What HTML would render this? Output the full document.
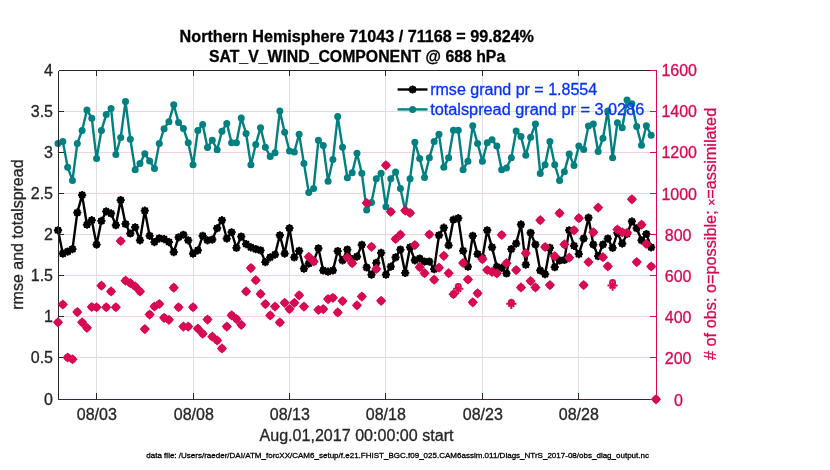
<!DOCTYPE html>
<html lang="en"><head><meta charset="utf-8"><title>SAT_V_WIND_COMPONENT @ 688 hPa</title>
<style>html,body{margin:0;padding:0;background:#fff;}body{width:830px;height:470px;overflow:hidden;}svg{display:block;}text{font-family:"Liberation Sans",Arial,Helvetica,sans-serif;stroke-width:0.3px;}</style>
</head><body>
<svg width="830" height="470" viewBox="0 0 830 470">
<rect x="0" y="0" width="830" height="470" fill="#ffffff"/>
<g stroke="#dfdfdf" stroke-width="1" shape-rendering="crispEdges">
<line x1="96.50" y1="70.0" x2="96.50" y2="400.0"/>
<line x1="193.50" y1="70.0" x2="193.50" y2="400.0"/>
<line x1="289.50" y1="70.0" x2="289.50" y2="400.0"/>
<line x1="385.50" y1="70.0" x2="385.50" y2="400.0"/>
<line x1="482.50" y1="70.0" x2="482.50" y2="400.0"/>
<line x1="578.50" y1="70.0" x2="578.50" y2="400.0"/>
</g>
<g stroke="#f6d2dd" stroke-width="1" shape-rendering="crispEdges">
<line x1="58.0" y1="357.50" x2="657.0" y2="357.50"/>
<line x1="58.0" y1="316.50" x2="657.0" y2="316.50"/>
<line x1="58.0" y1="275.50" x2="657.0" y2="275.50"/>
<line x1="58.0" y1="234.50" x2="657.0" y2="234.50"/>
<line x1="58.0" y1="193.50" x2="657.0" y2="193.50"/>
<line x1="58.0" y1="152.50" x2="657.0" y2="152.50"/>
<line x1="58.0" y1="111.50" x2="657.0" y2="111.50"/>
</g>
<polyline fill="none" stroke="#008080" stroke-width="2.4" stroke-linejoin="round" points="58.00,143.51 62.82,141.50 67.65,167.13 72.47,180.44 77.29,143.51 82.11,130.44 86.94,110.09 91.76,118.13 96.58,158.58 101.40,130.44 106.23,114.61 111.05,108.58 115.87,154.56 120.69,137.48 125.52,101.55 130.34,139.24 135.16,169.64 139.98,163.61 144.81,153.81 149.63,161.10 154.45,168.38 159.27,143.51 164.10,128.68 168.92,121.65 173.74,104.81 178.56,122.40 183.39,128.43 188.21,142.75 193.03,164.86 197.85,130.44 202.68,124.41 207.50,147.53 212.32,140.24 217.15,149.79 221.97,131.20 226.79,123.41 231.61,142.75 236.44,142.75 241.26,117.88 246.08,133.46 250.90,164.86 255.73,144.51 260.55,127.68 265.37,147.24 270.19,156.53 275.02,152.76 279.84,111.06 284.66,132.16 289.48,151.01 294.31,152.01 299.13,134.17 303.95,163.57 308.77,192.46 313.60,188.44 318.42,140.20 323.24,145.48 328.06,181.16 332.89,159.55 337.71,116.58 342.53,147.24 347.35,177.64 352.18,172.86 357.00,153.27 361.82,173.37 366.65,210.05 371.47,202.51 376.29,178.64 381.11,173.37 385.94,206.78 390.76,178.64 395.58,172.11 400.40,188.44 405.23,210.55 410.05,178.64 414.87,142.21 419.69,158.54 424.52,177.39 429.34,157.79 434.16,141.46 438.98,134.17 443.81,167.34 448.63,157.79 453.45,130.23 458.27,130.23 463.10,169.67 467.92,161.13 472.74,125.70 477.56,143.54 482.39,161.13 487.21,142.79 492.03,139.77 496.85,146.06 501.68,169.67 506.50,167.91 511.32,157.86 516.15,130.98 520.97,136.51 525.79,155.35 530.61,137.26 535.44,123.94 540.26,173.44 545.08,164.65 549.90,141.53 554.73,164.65 559.55,180.48 564.37,171.68 569.19,154.10 574.02,165.40 578.84,146.06 583.66,149.57 588.48,125.95 593.31,123.94 598.13,151.58 602.95,138.27 607.77,110.88 612.60,157.86 617.42,122.69 622.24,127.71 627.06,100.08 631.89,103.84 636.71,126.46 641.53,145.30 646.35,125.70 651.18,135.25"/>
<g fill="#008080">
<circle cx="58.00" cy="143.51" r="3.5"/>
<circle cx="62.82" cy="141.50" r="3.5"/>
<circle cx="67.65" cy="167.13" r="3.5"/>
<circle cx="72.47" cy="180.44" r="3.5"/>
<circle cx="77.29" cy="143.51" r="3.5"/>
<circle cx="82.11" cy="130.44" r="3.5"/>
<circle cx="86.94" cy="110.09" r="3.5"/>
<circle cx="91.76" cy="118.13" r="3.5"/>
<circle cx="96.58" cy="158.58" r="3.5"/>
<circle cx="101.40" cy="130.44" r="3.5"/>
<circle cx="106.23" cy="114.61" r="3.5"/>
<circle cx="111.05" cy="108.58" r="3.5"/>
<circle cx="115.87" cy="154.56" r="3.5"/>
<circle cx="120.69" cy="137.48" r="3.5"/>
<circle cx="125.52" cy="101.55" r="3.5"/>
<circle cx="130.34" cy="139.24" r="3.5"/>
<circle cx="135.16" cy="169.64" r="3.5"/>
<circle cx="139.98" cy="163.61" r="3.5"/>
<circle cx="144.81" cy="153.81" r="3.5"/>
<circle cx="149.63" cy="161.10" r="3.5"/>
<circle cx="154.45" cy="168.38" r="3.5"/>
<circle cx="159.27" cy="143.51" r="3.5"/>
<circle cx="164.10" cy="128.68" r="3.5"/>
<circle cx="168.92" cy="121.65" r="3.5"/>
<circle cx="173.74" cy="104.81" r="3.5"/>
<circle cx="178.56" cy="122.40" r="3.5"/>
<circle cx="183.39" cy="128.43" r="3.5"/>
<circle cx="188.21" cy="142.75" r="3.5"/>
<circle cx="193.03" cy="164.86" r="3.5"/>
<circle cx="197.85" cy="130.44" r="3.5"/>
<circle cx="202.68" cy="124.41" r="3.5"/>
<circle cx="207.50" cy="147.53" r="3.5"/>
<circle cx="212.32" cy="140.24" r="3.5"/>
<circle cx="217.15" cy="149.79" r="3.5"/>
<circle cx="221.97" cy="131.20" r="3.5"/>
<circle cx="226.79" cy="123.41" r="3.5"/>
<circle cx="231.61" cy="142.75" r="3.5"/>
<circle cx="236.44" cy="142.75" r="3.5"/>
<circle cx="241.26" cy="117.88" r="3.5"/>
<circle cx="246.08" cy="133.46" r="3.5"/>
<circle cx="250.90" cy="164.86" r="3.5"/>
<circle cx="255.73" cy="144.51" r="3.5"/>
<circle cx="260.55" cy="127.68" r="3.5"/>
<circle cx="265.37" cy="147.24" r="3.5"/>
<circle cx="270.19" cy="156.53" r="3.5"/>
<circle cx="275.02" cy="152.76" r="3.5"/>
<circle cx="279.84" cy="111.06" r="3.5"/>
<circle cx="284.66" cy="132.16" r="3.5"/>
<circle cx="289.48" cy="151.01" r="3.5"/>
<circle cx="294.31" cy="152.01" r="3.5"/>
<circle cx="299.13" cy="134.17" r="3.5"/>
<circle cx="303.95" cy="163.57" r="3.5"/>
<circle cx="308.77" cy="192.46" r="3.5"/>
<circle cx="313.60" cy="188.44" r="3.5"/>
<circle cx="318.42" cy="140.20" r="3.5"/>
<circle cx="323.24" cy="145.48" r="3.5"/>
<circle cx="328.06" cy="181.16" r="3.5"/>
<circle cx="332.89" cy="159.55" r="3.5"/>
<circle cx="337.71" cy="116.58" r="3.5"/>
<circle cx="342.53" cy="147.24" r="3.5"/>
<circle cx="347.35" cy="177.64" r="3.5"/>
<circle cx="352.18" cy="172.86" r="3.5"/>
<circle cx="357.00" cy="153.27" r="3.5"/>
<circle cx="361.82" cy="173.37" r="3.5"/>
<circle cx="366.65" cy="210.05" r="3.5"/>
<circle cx="371.47" cy="202.51" r="3.5"/>
<circle cx="376.29" cy="178.64" r="3.5"/>
<circle cx="381.11" cy="173.37" r="3.5"/>
<circle cx="385.94" cy="206.78" r="3.5"/>
<circle cx="390.76" cy="178.64" r="3.5"/>
<circle cx="395.58" cy="172.11" r="3.5"/>
<circle cx="400.40" cy="188.44" r="3.5"/>
<circle cx="405.23" cy="210.55" r="3.5"/>
<circle cx="410.05" cy="178.64" r="3.5"/>
<circle cx="414.87" cy="142.21" r="3.5"/>
<circle cx="419.69" cy="158.54" r="3.5"/>
<circle cx="424.52" cy="177.39" r="3.5"/>
<circle cx="429.34" cy="157.79" r="3.5"/>
<circle cx="434.16" cy="141.46" r="3.5"/>
<circle cx="438.98" cy="134.17" r="3.5"/>
<circle cx="443.81" cy="167.34" r="3.5"/>
<circle cx="448.63" cy="157.79" r="3.5"/>
<circle cx="453.45" cy="130.23" r="3.5"/>
<circle cx="458.27" cy="130.23" r="3.5"/>
<circle cx="463.10" cy="169.67" r="3.5"/>
<circle cx="467.92" cy="161.13" r="3.5"/>
<circle cx="472.74" cy="125.70" r="3.5"/>
<circle cx="477.56" cy="143.54" r="3.5"/>
<circle cx="482.39" cy="161.13" r="3.5"/>
<circle cx="487.21" cy="142.79" r="3.5"/>
<circle cx="492.03" cy="139.77" r="3.5"/>
<circle cx="496.85" cy="146.06" r="3.5"/>
<circle cx="501.68" cy="169.67" r="3.5"/>
<circle cx="506.50" cy="167.91" r="3.5"/>
<circle cx="511.32" cy="157.86" r="3.5"/>
<circle cx="516.15" cy="130.98" r="3.5"/>
<circle cx="520.97" cy="136.51" r="3.5"/>
<circle cx="525.79" cy="155.35" r="3.5"/>
<circle cx="530.61" cy="137.26" r="3.5"/>
<circle cx="535.44" cy="123.94" r="3.5"/>
<circle cx="540.26" cy="173.44" r="3.5"/>
<circle cx="545.08" cy="164.65" r="3.5"/>
<circle cx="549.90" cy="141.53" r="3.5"/>
<circle cx="554.73" cy="164.65" r="3.5"/>
<circle cx="559.55" cy="180.48" r="3.5"/>
<circle cx="564.37" cy="171.68" r="3.5"/>
<circle cx="569.19" cy="154.10" r="3.5"/>
<circle cx="574.02" cy="165.40" r="3.5"/>
<circle cx="578.84" cy="146.06" r="3.5"/>
<circle cx="583.66" cy="149.57" r="3.5"/>
<circle cx="588.48" cy="125.95" r="3.5"/>
<circle cx="593.31" cy="123.94" r="3.5"/>
<circle cx="598.13" cy="151.58" r="3.5"/>
<circle cx="602.95" cy="138.27" r="3.5"/>
<circle cx="607.77" cy="110.88" r="3.5"/>
<circle cx="612.60" cy="157.86" r="3.5"/>
<circle cx="617.42" cy="122.69" r="3.5"/>
<circle cx="622.24" cy="127.71" r="3.5"/>
<circle cx="627.06" cy="100.08" r="3.5"/>
<circle cx="631.89" cy="103.84" r="3.5"/>
<circle cx="636.71" cy="126.46" r="3.5"/>
<circle cx="641.53" cy="145.30" r="3.5"/>
<circle cx="646.35" cy="125.70" r="3.5"/>
<circle cx="651.18" cy="135.25" r="3.5"/>
</g>
<polyline fill="none" stroke="#000" stroke-width="2.4" stroke-linejoin="round" points="58.00,230.25 62.82,253.62 67.65,251.61 72.47,249.10 77.29,212.66 82.11,195.08 86.94,224.72 91.76,220.20 96.58,244.57 101.40,220.95 106.23,211.41 111.05,213.42 115.87,225.23 120.69,200.10 125.52,223.97 130.34,233.52 135.16,227.24 139.98,240.30 144.81,210.65 149.63,235.78 154.45,242.06 159.27,238.29 164.10,239.05 168.92,242.06 173.74,252.11 178.56,237.29 183.39,234.77 188.21,240.30 193.03,253.62 197.85,250.35 202.68,235.78 207.50,240.30 212.32,239.55 217.15,228.24 221.97,220.20 226.79,238.54 231.61,232.26 236.44,247.84 241.26,236.53 246.08,244.07 250.90,247.34 255.73,249.10 260.55,250.35 265.37,262.11 270.19,257.34 275.02,254.57 279.84,235.23 284.66,253.57 289.48,228.19 294.31,257.34 299.13,250.80 303.95,268.64 308.77,263.62 313.60,261.61 318.42,248.29 323.24,270.40 328.06,271.66 332.89,270.40 337.71,251.06 342.53,260.35 347.35,249.55 352.18,259.10 357.00,256.58 361.82,244.77 366.65,267.39 371.47,274.67 376.29,262.86 381.11,252.81 385.94,274.67 390.76,266.63 395.58,257.34 400.40,249.55 405.23,272.91 410.05,247.29 414.87,260.35 419.69,258.59 424.52,261.61 429.34,261.61 434.16,269.15 438.98,235.23 443.81,227.69 448.63,245.28 453.45,219.70 458.27,218.19 463.10,250.85 467.92,266.68 472.74,235.78 477.56,254.12 482.39,257.89 487.21,230.25 492.03,247.34 496.85,266.68 501.68,267.94 506.50,273.47 511.32,249.10 516.15,243.57 520.97,224.47 525.79,264.67 530.61,232.76 535.44,244.57 540.26,270.45 545.08,274.22 549.90,247.84 554.73,267.19 559.55,260.40 564.37,259.90 569.19,230.25 574.02,245.83 578.84,254.12 583.66,238.54 588.48,217.69 593.31,244.57 598.13,256.13 602.95,244.57 607.77,238.54 612.60,247.84 617.42,232.76 622.24,243.57 627.06,234.02 631.89,221.46 636.71,228.24 641.53,240.30 646.35,234.02 651.18,247.34"/>
<g fill="#000">
<circle cx="58.00" cy="230.25" r="3.5"/>
<path d="M53.90 230.25H62.10M58.00 226.15V234.35M55.10 227.35L60.90 233.15M55.10 233.15L60.90 227.35" stroke="#000" stroke-width="1.80" fill="none"/>
<circle cx="62.82" cy="253.62" r="3.5"/>
<path d="M58.72 253.62H66.92M62.82 249.52V257.72M59.92 250.72L65.72 256.52M59.92 256.52L65.72 250.72" stroke="#000" stroke-width="1.80" fill="none"/>
<circle cx="67.65" cy="251.61" r="3.5"/>
<path d="M63.55 251.61H71.75M67.65 247.51V255.71M64.75 248.71L70.54 254.51M64.75 254.51L70.54 248.71" stroke="#000" stroke-width="1.80" fill="none"/>
<circle cx="72.47" cy="249.10" r="3.5"/>
<path d="M68.37 249.10H76.57M72.47 245.00V253.20M69.57 246.20L75.37 251.99M69.57 251.99L75.37 246.20" stroke="#000" stroke-width="1.80" fill="none"/>
<circle cx="77.29" cy="212.66" r="3.5"/>
<path d="M73.19 212.66H81.39M77.29 208.56V216.76M74.39 209.76L80.19 215.56M74.39 215.56L80.19 209.76" stroke="#000" stroke-width="1.80" fill="none"/>
<circle cx="82.11" cy="195.08" r="3.5"/>
<path d="M78.01 195.08H86.21M82.11 190.98V199.18M79.21 192.18L85.01 197.97M79.21 197.97L85.01 192.18" stroke="#000" stroke-width="1.80" fill="none"/>
<circle cx="86.94" cy="224.72" r="3.5"/>
<path d="M82.84 224.72H91.04M86.94 220.62V228.82M84.04 221.82L89.83 227.62M84.04 227.62L89.83 221.82" stroke="#000" stroke-width="1.80" fill="none"/>
<circle cx="91.76" cy="220.20" r="3.5"/>
<path d="M87.66 220.20H95.86M91.76 216.10V224.30M88.86 217.30L94.66 223.10M88.86 223.10L94.66 217.30" stroke="#000" stroke-width="1.80" fill="none"/>
<circle cx="96.58" cy="244.57" r="3.5"/>
<path d="M92.48 244.57H100.68M96.58 240.47V248.67M93.68 241.67L99.48 247.47M93.68 247.47L99.48 241.67" stroke="#000" stroke-width="1.80" fill="none"/>
<circle cx="101.40" cy="220.95" r="3.5"/>
<path d="M97.30 220.95H105.50M101.40 216.85V225.05M98.50 218.06L104.30 223.85M98.50 223.85L104.30 218.06" stroke="#000" stroke-width="1.80" fill="none"/>
<circle cx="106.23" cy="211.41" r="3.5"/>
<path d="M102.13 211.41H110.33M106.23 207.31V215.51M103.33 208.51L109.12 214.31M103.33 214.31L109.12 208.51" stroke="#000" stroke-width="1.80" fill="none"/>
<circle cx="111.05" cy="213.42" r="3.5"/>
<path d="M106.95 213.42H115.15M111.05 209.32V217.52M108.15 210.52L113.95 216.32M108.15 216.32L113.95 210.52" stroke="#000" stroke-width="1.80" fill="none"/>
<circle cx="115.87" cy="225.23" r="3.5"/>
<path d="M111.77 225.23H119.97M115.87 221.13V229.33M112.97 222.33L118.77 228.13M112.97 228.13L118.77 222.33" stroke="#000" stroke-width="1.80" fill="none"/>
<circle cx="120.69" cy="200.10" r="3.5"/>
<path d="M116.59 200.10H124.79M120.69 196.00V204.20M117.79 197.20L123.59 203.00M117.79 203.00L123.59 197.20" stroke="#000" stroke-width="1.80" fill="none"/>
<circle cx="125.52" cy="223.97" r="3.5"/>
<path d="M121.42 223.97H129.62M125.52 219.87V228.07M122.62 221.07L128.42 226.87M122.62 226.87L128.42 221.07" stroke="#000" stroke-width="1.80" fill="none"/>
<circle cx="130.34" cy="233.52" r="3.5"/>
<path d="M126.24 233.52H134.44M130.34 229.42V237.62M127.44 230.62L133.24 236.42M127.44 236.42L133.24 230.62" stroke="#000" stroke-width="1.80" fill="none"/>
<circle cx="135.16" cy="227.24" r="3.5"/>
<path d="M131.06 227.24H139.26M135.16 223.14V231.34M132.26 224.34L138.06 230.14M132.26 230.14L138.06 224.34" stroke="#000" stroke-width="1.80" fill="none"/>
<circle cx="139.98" cy="240.30" r="3.5"/>
<path d="M135.88 240.30H144.08M139.98 236.20V244.40M137.08 237.40L142.88 243.20M137.08 243.20L142.88 237.40" stroke="#000" stroke-width="1.80" fill="none"/>
<circle cx="144.81" cy="210.65" r="3.5"/>
<path d="M140.71 210.65H148.91M144.81 206.55V214.75M141.91 207.75L147.71 213.55M141.91 213.55L147.71 207.75" stroke="#000" stroke-width="1.80" fill="none"/>
<circle cx="149.63" cy="235.78" r="3.5"/>
<path d="M145.53 235.78H153.73M149.63 231.68V239.88M146.73 232.88L152.53 238.68M146.73 238.68L152.53 232.88" stroke="#000" stroke-width="1.80" fill="none"/>
<circle cx="154.45" cy="242.06" r="3.5"/>
<path d="M150.35 242.06H158.55M154.45 237.96V246.16M151.55 239.16L157.35 244.96M151.55 244.96L157.35 239.16" stroke="#000" stroke-width="1.80" fill="none"/>
<circle cx="159.27" cy="238.29" r="3.5"/>
<path d="M155.17 238.29H163.37M159.27 234.19V242.39M156.38 235.39L162.17 241.19M156.38 241.19L162.17 235.39" stroke="#000" stroke-width="1.80" fill="none"/>
<circle cx="164.10" cy="239.05" r="3.5"/>
<path d="M160.00 239.05H168.20M164.10 234.95V243.15M161.20 236.15L167.00 241.94M161.20 241.94L167.00 236.15" stroke="#000" stroke-width="1.80" fill="none"/>
<circle cx="168.92" cy="242.06" r="3.5"/>
<path d="M164.82 242.06H173.02M168.92 237.96V246.16M166.02 239.16L171.82 244.96M166.02 244.96L171.82 239.16" stroke="#000" stroke-width="1.80" fill="none"/>
<circle cx="173.74" cy="252.11" r="3.5"/>
<path d="M169.64 252.11H177.84M173.74 248.01V256.21M170.84 249.21L176.64 255.01M170.84 255.01L176.64 249.21" stroke="#000" stroke-width="1.80" fill="none"/>
<circle cx="178.56" cy="237.29" r="3.5"/>
<path d="M174.46 237.29H182.66M178.56 233.19V241.39M175.67 234.39L181.46 240.19M175.67 240.19L181.46 234.39" stroke="#000" stroke-width="1.80" fill="none"/>
<circle cx="183.39" cy="234.77" r="3.5"/>
<path d="M179.29 234.77H187.49M183.39 230.67V238.87M180.49 231.87L186.29 237.67M180.49 237.67L186.29 231.87" stroke="#000" stroke-width="1.80" fill="none"/>
<circle cx="188.21" cy="240.30" r="3.5"/>
<path d="M184.11 240.30H192.31M188.21 236.20V244.40M185.31 237.40L191.11 243.20M185.31 243.20L191.11 237.40" stroke="#000" stroke-width="1.80" fill="none"/>
<circle cx="193.03" cy="253.62" r="3.5"/>
<path d="M188.93 253.62H197.13M193.03 249.52V257.72M190.13 250.72L195.93 256.52M190.13 256.52L195.93 250.72" stroke="#000" stroke-width="1.80" fill="none"/>
<circle cx="197.85" cy="250.35" r="3.5"/>
<path d="M193.75 250.35H201.95M197.85 246.25V254.45M194.96 247.45L200.75 253.25M194.96 253.25L200.75 247.45" stroke="#000" stroke-width="1.80" fill="none"/>
<circle cx="202.68" cy="235.78" r="3.5"/>
<path d="M198.58 235.78H206.78M202.68 231.68V239.88M199.78 232.88L205.58 238.68M199.78 238.68L205.58 232.88" stroke="#000" stroke-width="1.80" fill="none"/>
<circle cx="207.50" cy="240.30" r="3.5"/>
<path d="M203.40 240.30H211.60M207.50 236.20V244.40M204.60 237.40L210.40 243.20M204.60 243.20L210.40 237.40" stroke="#000" stroke-width="1.80" fill="none"/>
<circle cx="212.32" cy="239.55" r="3.5"/>
<path d="M208.22 239.55H216.42M212.32 235.45V243.65M209.42 236.65L215.22 242.45M209.42 242.45L215.22 236.65" stroke="#000" stroke-width="1.80" fill="none"/>
<circle cx="217.15" cy="228.24" r="3.5"/>
<path d="M213.05 228.24H221.25M217.15 224.14V232.34M214.25 225.34L220.04 231.14M214.25 231.14L220.04 225.34" stroke="#000" stroke-width="1.80" fill="none"/>
<circle cx="221.97" cy="220.20" r="3.5"/>
<path d="M217.87 220.20H226.07M221.97 216.10V224.30M219.07 217.30L224.87 223.10M219.07 223.10L224.87 217.30" stroke="#000" stroke-width="1.80" fill="none"/>
<circle cx="226.79" cy="238.54" r="3.5"/>
<path d="M222.69 238.54H230.89M226.79 234.44V242.64M223.89 235.64L229.69 241.44M223.89 241.44L229.69 235.64" stroke="#000" stroke-width="1.80" fill="none"/>
<circle cx="231.61" cy="232.26" r="3.5"/>
<path d="M227.51 232.26H235.71M231.61 228.16V236.36M228.71 229.36L234.51 235.16M228.71 235.16L234.51 229.36" stroke="#000" stroke-width="1.80" fill="none"/>
<circle cx="236.44" cy="247.84" r="3.5"/>
<path d="M232.34 247.84H240.54M236.44 243.74V251.94M233.54 244.94L239.33 250.74M233.54 250.74L239.33 244.94" stroke="#000" stroke-width="1.80" fill="none"/>
<circle cx="241.26" cy="236.53" r="3.5"/>
<path d="M237.16 236.53H245.36M241.26 232.43V240.63M238.36 233.63L244.16 239.43M238.36 239.43L244.16 233.63" stroke="#000" stroke-width="1.80" fill="none"/>
<circle cx="246.08" cy="244.07" r="3.5"/>
<path d="M241.98 244.07H250.18M246.08 239.97V248.17M243.18 241.17L248.98 246.97M243.18 246.97L248.98 241.17" stroke="#000" stroke-width="1.80" fill="none"/>
<circle cx="250.90" cy="247.34" r="3.5"/>
<path d="M246.80 247.34H255.00M250.90 243.24V251.44M248.00 244.44L253.80 250.24M248.00 250.24L253.80 244.44" stroke="#000" stroke-width="1.80" fill="none"/>
<circle cx="255.73" cy="249.10" r="3.5"/>
<path d="M251.63 249.10H259.83M255.73 245.00V253.20M252.83 246.20L258.62 251.99M252.83 251.99L258.62 246.20" stroke="#000" stroke-width="1.80" fill="none"/>
<circle cx="260.55" cy="250.35" r="3.5"/>
<path d="M256.45 250.35H264.65M260.55 246.25V254.45M257.65 247.45L263.45 253.25M257.65 253.25L263.45 247.45" stroke="#000" stroke-width="1.80" fill="none"/>
<circle cx="265.37" cy="262.11" r="3.5"/>
<path d="M261.27 262.11H269.47M265.37 258.01V266.21M262.47 259.21L268.27 265.01M262.47 265.01L268.27 259.21" stroke="#000" stroke-width="1.80" fill="none"/>
<circle cx="270.19" cy="257.34" r="3.5"/>
<path d="M266.09 257.34H274.29M270.19 253.24V261.44M267.29 254.44L273.09 260.24M267.29 260.24L273.09 254.44" stroke="#000" stroke-width="1.80" fill="none"/>
<circle cx="275.02" cy="254.57" r="3.5"/>
<path d="M270.92 254.57H279.12M275.02 250.47V258.67M272.12 251.67L277.92 257.47M272.12 257.47L277.92 251.67" stroke="#000" stroke-width="1.80" fill="none"/>
<circle cx="279.84" cy="235.23" r="3.5"/>
<path d="M275.74 235.23H283.94M279.84 231.13V239.33M276.94 232.33L282.74 238.13M276.94 238.13L282.74 232.33" stroke="#000" stroke-width="1.80" fill="none"/>
<circle cx="284.66" cy="253.57" r="3.5"/>
<path d="M280.56 253.57H288.76M284.66 249.47V257.67M281.76 250.67L287.56 256.47M281.76 256.47L287.56 250.67" stroke="#000" stroke-width="1.80" fill="none"/>
<circle cx="289.48" cy="228.19" r="3.5"/>
<path d="M285.38 228.19H293.58M289.48 224.09V232.29M286.58 225.29L292.38 231.09M286.58 231.09L292.38 225.29" stroke="#000" stroke-width="1.80" fill="none"/>
<circle cx="294.31" cy="257.34" r="3.5"/>
<path d="M290.21 257.34H298.41M294.31 253.24V261.44M291.41 254.44L297.21 260.24M291.41 260.24L297.21 254.44" stroke="#000" stroke-width="1.80" fill="none"/>
<circle cx="299.13" cy="250.80" r="3.5"/>
<path d="M295.03 250.80H303.23M299.13 246.70V254.90M296.23 247.90L302.03 253.70M296.23 253.70L302.03 247.90" stroke="#000" stroke-width="1.80" fill="none"/>
<circle cx="303.95" cy="268.64" r="3.5"/>
<path d="M299.85 268.64H308.05M303.95 264.54V272.74M301.05 265.74L306.85 271.54M301.05 271.54L306.85 265.74" stroke="#000" stroke-width="1.80" fill="none"/>
<circle cx="308.77" cy="263.62" r="3.5"/>
<path d="M304.67 263.62H312.87M308.77 259.52V267.72M305.88 260.72L311.67 266.52M305.88 266.52L311.67 260.72" stroke="#000" stroke-width="1.80" fill="none"/>
<circle cx="313.60" cy="261.61" r="3.5"/>
<path d="M309.50 261.61H317.70M313.60 257.51V265.71M310.70 258.71L316.50 264.51M310.70 264.51L316.50 258.71" stroke="#000" stroke-width="1.80" fill="none"/>
<circle cx="318.42" cy="248.29" r="3.5"/>
<path d="M314.32 248.29H322.52M318.42 244.19V252.39M315.52 245.39L321.32 251.19M315.52 251.19L321.32 245.39" stroke="#000" stroke-width="1.80" fill="none"/>
<circle cx="323.24" cy="270.40" r="3.5"/>
<path d="M319.14 270.40H327.34M323.24 266.30V274.50M320.34 267.50L326.14 273.30M320.34 273.30L326.14 267.50" stroke="#000" stroke-width="1.80" fill="none"/>
<circle cx="328.06" cy="271.66" r="3.5"/>
<path d="M323.96 271.66H332.16M328.06 267.56V275.76M325.17 268.76L330.96 274.56M325.17 274.56L330.96 268.76" stroke="#000" stroke-width="1.80" fill="none"/>
<circle cx="332.89" cy="270.40" r="3.5"/>
<path d="M328.79 270.40H336.99M332.89 266.30V274.50M329.99 267.50L335.79 273.30M329.99 273.30L335.79 267.50" stroke="#000" stroke-width="1.80" fill="none"/>
<circle cx="337.71" cy="251.06" r="3.5"/>
<path d="M333.61 251.06H341.81M337.71 246.96V255.16M334.81 248.16L340.61 253.95M334.81 253.95L340.61 248.16" stroke="#000" stroke-width="1.80" fill="none"/>
<circle cx="342.53" cy="260.35" r="3.5"/>
<path d="M338.43 260.35H346.63M342.53 256.25V264.45M339.63 257.45L345.43 263.25M339.63 263.25L345.43 257.45" stroke="#000" stroke-width="1.80" fill="none"/>
<circle cx="347.35" cy="249.55" r="3.5"/>
<path d="M343.25 249.55H351.45M347.35 245.45V253.65M344.46 246.65L350.25 252.45M344.46 252.45L350.25 246.65" stroke="#000" stroke-width="1.80" fill="none"/>
<circle cx="352.18" cy="259.10" r="3.5"/>
<path d="M348.08 259.10H356.28M352.18 255.00V263.20M349.28 256.20L355.08 261.99M349.28 261.99L355.08 256.20" stroke="#000" stroke-width="1.80" fill="none"/>
<circle cx="357.00" cy="256.58" r="3.5"/>
<path d="M352.90 256.58H361.10M357.00 252.48V260.68M354.10 253.68L359.90 259.48M354.10 259.48L359.90 253.68" stroke="#000" stroke-width="1.80" fill="none"/>
<circle cx="361.82" cy="244.77" r="3.5"/>
<path d="M357.72 244.77H365.92M361.82 240.67V248.87M358.92 241.87L364.72 247.67M358.92 247.67L364.72 241.87" stroke="#000" stroke-width="1.80" fill="none"/>
<circle cx="366.65" cy="267.39" r="3.5"/>
<path d="M362.55 267.39H370.75M366.65 263.29V271.49M363.75 264.49L369.54 270.29M363.75 270.29L369.54 264.49" stroke="#000" stroke-width="1.80" fill="none"/>
<circle cx="371.47" cy="274.67" r="3.5"/>
<path d="M367.37 274.67H375.57M371.47 270.57V278.77M368.57 271.77L374.37 277.57M368.57 277.57L374.37 271.77" stroke="#000" stroke-width="1.80" fill="none"/>
<circle cx="376.29" cy="262.86" r="3.5"/>
<path d="M372.19 262.86H380.39M376.29 258.76V266.96M373.39 259.97L379.19 265.76M373.39 265.76L379.19 259.97" stroke="#000" stroke-width="1.80" fill="none"/>
<circle cx="381.11" cy="252.81" r="3.5"/>
<path d="M377.01 252.81H385.21M381.11 248.71V256.91M378.21 249.91L384.01 255.71M378.21 255.71L384.01 249.91" stroke="#000" stroke-width="1.80" fill="none"/>
<circle cx="385.94" cy="274.67" r="3.5"/>
<path d="M381.84 274.67H390.04M385.94 270.57V278.77M383.04 271.77L388.83 277.57M383.04 277.57L388.83 271.77" stroke="#000" stroke-width="1.80" fill="none"/>
<circle cx="390.76" cy="266.63" r="3.5"/>
<path d="M386.66 266.63H394.86M390.76 262.53V270.73M387.86 263.73L393.66 269.53M387.86 269.53L393.66 263.73" stroke="#000" stroke-width="1.80" fill="none"/>
<circle cx="395.58" cy="257.34" r="3.5"/>
<path d="M391.48 257.34H399.68M395.58 253.24V261.44M392.68 254.44L398.48 260.24M392.68 260.24L398.48 254.44" stroke="#000" stroke-width="1.80" fill="none"/>
<circle cx="400.40" cy="249.55" r="3.5"/>
<path d="M396.30 249.55H404.50M400.40 245.45V253.65M397.50 246.65L403.30 252.45M397.50 252.45L403.30 246.65" stroke="#000" stroke-width="1.80" fill="none"/>
<circle cx="405.23" cy="272.91" r="3.5"/>
<path d="M401.13 272.91H409.33M405.23 268.81V277.01M402.33 270.02L408.12 275.81M402.33 275.81L408.12 270.02" stroke="#000" stroke-width="1.80" fill="none"/>
<circle cx="410.05" cy="247.29" r="3.5"/>
<path d="M405.95 247.29H414.15M410.05 243.19V251.39M407.15 244.39L412.95 250.19M407.15 250.19L412.95 244.39" stroke="#000" stroke-width="1.80" fill="none"/>
<circle cx="414.87" cy="260.35" r="3.5"/>
<path d="M410.77 260.35H418.97M414.87 256.25V264.45M411.97 257.45L417.77 263.25M411.97 263.25L417.77 257.45" stroke="#000" stroke-width="1.80" fill="none"/>
<circle cx="419.69" cy="258.59" r="3.5"/>
<path d="M415.59 258.59H423.79M419.69 254.49V262.69M416.79 255.69L422.59 261.49M416.79 261.49L422.59 255.69" stroke="#000" stroke-width="1.80" fill="none"/>
<circle cx="424.52" cy="261.61" r="3.5"/>
<path d="M420.42 261.61H428.62M424.52 257.51V265.71M421.62 258.71L427.42 264.51M421.62 264.51L427.42 258.71" stroke="#000" stroke-width="1.80" fill="none"/>
<circle cx="429.34" cy="261.61" r="3.5"/>
<path d="M425.24 261.61H433.44M429.34 257.51V265.71M426.44 258.71L432.24 264.51M426.44 264.51L432.24 258.71" stroke="#000" stroke-width="1.80" fill="none"/>
<circle cx="434.16" cy="269.15" r="3.5"/>
<path d="M430.06 269.15H438.26M434.16 265.05V273.25M431.26 266.25L437.06 272.04M431.26 272.04L437.06 266.25" stroke="#000" stroke-width="1.80" fill="none"/>
<circle cx="438.98" cy="235.23" r="3.5"/>
<path d="M434.88 235.23H443.08M438.98 231.13V239.33M436.08 232.33L441.88 238.13M436.08 238.13L441.88 232.33" stroke="#000" stroke-width="1.80" fill="none"/>
<circle cx="443.81" cy="227.69" r="3.5"/>
<path d="M439.71 227.69H447.91M443.81 223.59V231.79M440.91 224.79L446.71 230.59M440.91 230.59L446.71 224.79" stroke="#000" stroke-width="1.80" fill="none"/>
<circle cx="448.63" cy="245.28" r="3.5"/>
<path d="M444.53 245.28H452.73M448.63 241.18V249.38M445.73 242.38L451.53 248.18M445.73 248.18L451.53 242.38" stroke="#000" stroke-width="1.80" fill="none"/>
<circle cx="453.45" cy="219.70" r="3.5"/>
<path d="M449.35 219.70H457.55M453.45 215.60V223.80M450.55 216.80L456.35 222.60M450.55 222.60L456.35 216.80" stroke="#000" stroke-width="1.80" fill="none"/>
<circle cx="458.27" cy="218.19" r="3.5"/>
<path d="M454.17 218.19H462.37M458.27 214.09V222.29M455.38 215.29L461.17 221.09M455.38 221.09L461.17 215.29" stroke="#000" stroke-width="1.80" fill="none"/>
<circle cx="463.10" cy="250.85" r="3.5"/>
<path d="M459.00 250.85H467.20M463.10 246.75V254.95M460.20 247.96L466.00 253.75M460.20 253.75L466.00 247.96" stroke="#000" stroke-width="1.80" fill="none"/>
<circle cx="467.92" cy="266.68" r="3.5"/>
<path d="M463.82 266.68H472.02M467.92 262.58V270.78M465.02 263.78L470.82 269.58M465.02 269.58L470.82 263.78" stroke="#000" stroke-width="1.80" fill="none"/>
<circle cx="472.74" cy="235.78" r="3.5"/>
<path d="M468.64 235.78H476.84M472.74 231.68V239.88M469.84 232.88L475.64 238.68M469.84 238.68L475.64 232.88" stroke="#000" stroke-width="1.80" fill="none"/>
<circle cx="477.56" cy="254.12" r="3.5"/>
<path d="M473.46 254.12H481.66M477.56 250.02V258.22M474.67 251.22L480.46 257.02M474.67 257.02L480.46 251.22" stroke="#000" stroke-width="1.80" fill="none"/>
<circle cx="482.39" cy="257.89" r="3.5"/>
<path d="M478.29 257.89H486.49M482.39 253.79V261.99M479.49 254.99L485.29 260.79M479.49 260.79L485.29 254.99" stroke="#000" stroke-width="1.80" fill="none"/>
<circle cx="487.21" cy="230.25" r="3.5"/>
<path d="M483.11 230.25H491.31M487.21 226.15V234.35M484.31 227.35L490.11 233.15M484.31 233.15L490.11 227.35" stroke="#000" stroke-width="1.80" fill="none"/>
<circle cx="492.03" cy="247.34" r="3.5"/>
<path d="M487.93 247.34H496.13M492.03 243.24V251.44M489.13 244.44L494.93 250.24M489.13 250.24L494.93 244.44" stroke="#000" stroke-width="1.80" fill="none"/>
<circle cx="496.85" cy="266.68" r="3.5"/>
<path d="M492.75 266.68H500.95M496.85 262.58V270.78M493.96 263.78L499.75 269.58M493.96 269.58L499.75 263.78" stroke="#000" stroke-width="1.80" fill="none"/>
<circle cx="501.68" cy="267.94" r="3.5"/>
<path d="M497.58 267.94H505.78M501.68 263.84V272.04M498.78 265.04L504.58 270.84M498.78 270.84L504.58 265.04" stroke="#000" stroke-width="1.80" fill="none"/>
<circle cx="506.50" cy="273.47" r="3.5"/>
<path d="M502.40 273.47H510.60M506.50 269.37V277.57M503.60 270.57L509.40 276.37M503.60 276.37L509.40 270.57" stroke="#000" stroke-width="1.80" fill="none"/>
<circle cx="511.32" cy="249.10" r="3.5"/>
<path d="M507.22 249.10H515.42M511.32 245.00V253.20M508.42 246.20L514.22 251.99M508.42 251.99L514.22 246.20" stroke="#000" stroke-width="1.80" fill="none"/>
<circle cx="516.15" cy="243.57" r="3.5"/>
<path d="M512.05 243.57H520.25M516.15 239.47V247.67M513.25 240.67L519.04 246.47M513.25 246.47L519.04 240.67" stroke="#000" stroke-width="1.80" fill="none"/>
<circle cx="520.97" cy="224.47" r="3.5"/>
<path d="M516.87 224.47H525.07M520.97 220.37V228.57M518.07 221.57L523.87 227.37M518.07 227.37L523.87 221.57" stroke="#000" stroke-width="1.80" fill="none"/>
<circle cx="525.79" cy="264.67" r="3.5"/>
<path d="M521.69 264.67H529.89M525.79 260.57V268.77M522.89 261.77L528.69 267.57M522.89 267.57L528.69 261.77" stroke="#000" stroke-width="1.80" fill="none"/>
<circle cx="530.61" cy="232.76" r="3.5"/>
<path d="M526.51 232.76H534.71M530.61 228.66V236.86M527.71 229.86L533.51 235.66M527.71 235.66L533.51 229.86" stroke="#000" stroke-width="1.80" fill="none"/>
<circle cx="535.44" cy="244.57" r="3.5"/>
<path d="M531.34 244.57H539.54M535.44 240.47V248.67M532.54 241.67L538.33 247.47M532.54 247.47L538.33 241.67" stroke="#000" stroke-width="1.80" fill="none"/>
<circle cx="540.26" cy="270.45" r="3.5"/>
<path d="M536.16 270.45H544.36M540.26 266.35V274.55M537.36 267.55L543.16 273.35M537.36 273.35L543.16 267.55" stroke="#000" stroke-width="1.80" fill="none"/>
<circle cx="545.08" cy="274.22" r="3.5"/>
<path d="M540.98 274.22H549.18M545.08 270.12V278.32M542.18 271.32L547.98 277.12M542.18 277.12L547.98 271.32" stroke="#000" stroke-width="1.80" fill="none"/>
<circle cx="549.90" cy="247.84" r="3.5"/>
<path d="M545.80 247.84H554.00M549.90 243.74V251.94M547.00 244.94L552.80 250.74M547.00 250.74L552.80 244.94" stroke="#000" stroke-width="1.80" fill="none"/>
<circle cx="554.73" cy="267.19" r="3.5"/>
<path d="M550.63 267.19H558.83M554.73 263.09V271.29M551.83 264.29L557.62 270.09M551.83 270.09L557.62 264.29" stroke="#000" stroke-width="1.80" fill="none"/>
<circle cx="559.55" cy="260.40" r="3.5"/>
<path d="M555.45 260.40H563.65M559.55 256.30V264.50M556.65 257.50L562.45 263.30M556.65 263.30L562.45 257.50" stroke="#000" stroke-width="1.80" fill="none"/>
<circle cx="564.37" cy="259.90" r="3.5"/>
<path d="M560.27 259.90H568.47M564.37 255.80V264.00M561.47 257.00L567.27 262.80M561.47 262.80L567.27 257.00" stroke="#000" stroke-width="1.80" fill="none"/>
<circle cx="569.19" cy="230.25" r="3.5"/>
<path d="M565.09 230.25H573.29M569.19 226.15V234.35M566.29 227.35L572.09 233.15M566.29 233.15L572.09 227.35" stroke="#000" stroke-width="1.80" fill="none"/>
<circle cx="574.02" cy="245.83" r="3.5"/>
<path d="M569.92 245.83H578.12M574.02 241.73V249.93M571.12 242.93L576.92 248.73M571.12 248.73L576.92 242.93" stroke="#000" stroke-width="1.80" fill="none"/>
<circle cx="578.84" cy="254.12" r="3.5"/>
<path d="M574.74 254.12H582.94M578.84 250.02V258.22M575.94 251.22L581.74 257.02M575.94 257.02L581.74 251.22" stroke="#000" stroke-width="1.80" fill="none"/>
<circle cx="583.66" cy="238.54" r="3.5"/>
<path d="M579.56 238.54H587.76M583.66 234.44V242.64M580.76 235.64L586.56 241.44M580.76 241.44L586.56 235.64" stroke="#000" stroke-width="1.80" fill="none"/>
<circle cx="588.48" cy="217.69" r="3.5"/>
<path d="M584.38 217.69H592.58M588.48 213.59V221.79M585.58 214.79L591.38 220.59M585.58 220.59L591.38 214.79" stroke="#000" stroke-width="1.80" fill="none"/>
<circle cx="593.31" cy="244.57" r="3.5"/>
<path d="M589.21 244.57H597.41M593.31 240.47V248.67M590.41 241.67L596.21 247.47M590.41 247.47L596.21 241.67" stroke="#000" stroke-width="1.80" fill="none"/>
<circle cx="598.13" cy="256.13" r="3.5"/>
<path d="M594.03 256.13H602.23M598.13 252.03V260.23M595.23 253.23L601.03 259.03M595.23 259.03L601.03 253.23" stroke="#000" stroke-width="1.80" fill="none"/>
<circle cx="602.95" cy="244.57" r="3.5"/>
<path d="M598.85 244.57H607.05M602.95 240.47V248.67M600.05 241.67L605.85 247.47M600.05 247.47L605.85 241.67" stroke="#000" stroke-width="1.80" fill="none"/>
<circle cx="607.77" cy="238.54" r="3.5"/>
<path d="M603.67 238.54H611.87M607.77 234.44V242.64M604.88 235.64L610.67 241.44M604.88 241.44L610.67 235.64" stroke="#000" stroke-width="1.80" fill="none"/>
<circle cx="612.60" cy="247.84" r="3.5"/>
<path d="M608.50 247.84H616.70M612.60 243.74V251.94M609.70 244.94L615.50 250.74M609.70 250.74L615.50 244.94" stroke="#000" stroke-width="1.80" fill="none"/>
<circle cx="617.42" cy="232.76" r="3.5"/>
<path d="M613.32 232.76H621.52M617.42 228.66V236.86M614.52 229.86L620.32 235.66M614.52 235.66L620.32 229.86" stroke="#000" stroke-width="1.80" fill="none"/>
<circle cx="622.24" cy="243.57" r="3.5"/>
<path d="M618.14 243.57H626.34M622.24 239.47V247.67M619.34 240.67L625.14 246.47M619.34 246.47L625.14 240.67" stroke="#000" stroke-width="1.80" fill="none"/>
<circle cx="627.06" cy="234.02" r="3.5"/>
<path d="M622.96 234.02H631.16M627.06 229.92V238.12M624.17 231.12L629.96 236.92M624.17 236.92L629.96 231.12" stroke="#000" stroke-width="1.80" fill="none"/>
<circle cx="631.89" cy="221.46" r="3.5"/>
<path d="M627.79 221.46H635.99M631.89 217.36V225.56M628.99 218.56L634.79 224.36M628.99 224.36L634.79 218.56" stroke="#000" stroke-width="1.80" fill="none"/>
<circle cx="636.71" cy="228.24" r="3.5"/>
<path d="M632.61 228.24H640.81M636.71 224.14V232.34M633.81 225.34L639.61 231.14M633.81 231.14L639.61 225.34" stroke="#000" stroke-width="1.80" fill="none"/>
<circle cx="641.53" cy="240.30" r="3.5"/>
<path d="M637.43 240.30H645.63M641.53 236.20V244.40M638.63 237.40L644.43 243.20M638.63 243.20L644.43 237.40" stroke="#000" stroke-width="1.80" fill="none"/>
<circle cx="646.35" cy="234.02" r="3.5"/>
<path d="M642.25 234.02H650.45M646.35 229.92V238.12M643.46 231.12L649.25 236.92M643.46 236.92L649.25 231.12" stroke="#000" stroke-width="1.80" fill="none"/>
<circle cx="651.18" cy="247.34" r="3.5"/>
<path d="M647.08 247.34H655.28M651.18 243.24V251.44M648.28 244.44L654.08 250.24M648.28 250.24L654.08 244.44" stroke="#000" stroke-width="1.80" fill="none"/>
</g>
<g stroke="#262626" stroke-width="1" fill="none" shape-rendering="crispEdges">
<path d="M58.5 70.5V399.5H656.5"/>
<path d="M58.5 70.5H656.5"/>
<line x1="96.50" y1="399.5" x2="96.50" y2="393.0"/>
<line x1="96.50" y1="70.5" x2="96.50" y2="76.0"/>
<line x1="193.50" y1="399.5" x2="193.50" y2="393.0"/>
<line x1="193.50" y1="70.5" x2="193.50" y2="76.0"/>
<line x1="289.50" y1="399.5" x2="289.50" y2="393.0"/>
<line x1="289.50" y1="70.5" x2="289.50" y2="76.0"/>
<line x1="385.50" y1="399.5" x2="385.50" y2="393.0"/>
<line x1="385.50" y1="70.5" x2="385.50" y2="76.0"/>
<line x1="482.50" y1="399.5" x2="482.50" y2="393.0"/>
<line x1="482.50" y1="70.5" x2="482.50" y2="76.0"/>
<line x1="578.50" y1="399.5" x2="578.50" y2="393.0"/>
<line x1="578.50" y1="70.5" x2="578.50" y2="76.0"/>
<line x1="58.5" y1="399.50" x2="64.0" y2="399.50"/>
<line x1="58.5" y1="357.50" x2="64.0" y2="357.50"/>
<line x1="58.5" y1="316.50" x2="64.0" y2="316.50"/>
<line x1="58.5" y1="275.50" x2="64.0" y2="275.50"/>
<line x1="58.5" y1="234.50" x2="64.0" y2="234.50"/>
<line x1="58.5" y1="193.50" x2="64.0" y2="193.50"/>
<line x1="58.5" y1="152.50" x2="64.0" y2="152.50"/>
<line x1="58.5" y1="111.50" x2="64.0" y2="111.50"/>
<line x1="58.5" y1="70.50" x2="64.0" y2="70.50"/>
</g>
<g stroke="#d70a53" stroke-width="1" fill="none" shape-rendering="crispEdges">
<path d="M656.5 70.0V400.0"/>
<path d="M58.0 399.5H657.0" stroke-opacity="0.2"/>
<line x1="656.5" y1="399.50" x2="650.0" y2="399.50"/>
<line x1="656.5" y1="357.50" x2="650.0" y2="357.50"/>
<line x1="656.5" y1="316.50" x2="650.0" y2="316.50"/>
<line x1="656.5" y1="275.50" x2="650.0" y2="275.50"/>
<line x1="656.5" y1="234.50" x2="650.0" y2="234.50"/>
<line x1="656.5" y1="193.50" x2="650.0" y2="193.50"/>
<line x1="656.5" y1="152.50" x2="650.0" y2="152.50"/>
<line x1="656.5" y1="111.50" x2="650.0" y2="111.50"/>
<line x1="656.5" y1="70.50" x2="650.0" y2="70.50"/>
</g>
<g id="pinkmarks" fill="#d70a53">
<path d="M52.90 322.34L58.00 317.24L63.10 322.34L58.00 327.44Z"/><circle cx="58.00" cy="322.34" r="3.7"/>
<path d="M57.72 304.50L62.82 299.40L67.92 304.50L62.82 309.60Z"/><circle cx="62.82" cy="304.50" r="3.7"/>
<path d="M62.55 357.51L67.65 352.41L72.75 357.51L67.65 362.61Z"/><circle cx="67.65" cy="357.51" r="3.7"/>
<path d="M67.37 359.27L72.47 354.17L77.57 359.27L72.47 364.37Z"/><circle cx="72.47" cy="359.27" r="3.7"/>
<path d="M72.19 312.04L77.29 306.94L82.39 312.04L77.29 317.14Z"/><circle cx="77.29" cy="312.04" r="3.7"/>
<path d="M77.01 322.34L82.11 317.24L87.21 322.34L82.11 327.44Z"/><circle cx="82.11" cy="322.34" r="3.7"/>
<path d="M81.84 327.86L86.94 322.76L92.04 327.86L86.94 332.96Z"/><circle cx="86.94" cy="327.86" r="3.7"/>
<path d="M86.66 307.01L91.76 301.91L96.86 307.01L91.76 312.11Z"/><circle cx="91.76" cy="307.01" r="3.7"/>
<path d="M91.48 307.26L96.58 302.16L101.68 307.26L96.58 312.36Z"/><circle cx="96.58" cy="307.26" r="3.7"/>
<path d="M96.30 285.65L101.40 280.55L106.50 285.65L101.40 290.75Z"/><circle cx="101.40" cy="285.65" r="3.7"/>
<path d="M101.13 307.26L106.23 302.16L111.33 307.26L106.23 312.36Z"/><circle cx="106.23" cy="307.26" r="3.7"/>
<path d="M105.95 291.43L111.05 286.33L116.15 291.43L111.05 296.53Z"/><circle cx="111.05" cy="291.43" r="3.7"/>
<path d="M110.77 307.26L115.87 302.16L120.97 307.26L115.87 312.36Z"/><circle cx="115.87" cy="307.26" r="3.7"/>
<path d="M115.59 241.00L120.69 235.90L125.79 241.00L120.69 246.10Z"/><circle cx="120.69" cy="241.00" r="3.7"/>
<path d="M120.42 280.63L125.52 275.53L130.62 280.63L125.52 285.73Z"/><circle cx="125.52" cy="280.63" r="3.7"/>
<path d="M125.24 283.14L130.34 278.04L135.44 283.14L130.34 288.24Z"/><circle cx="130.34" cy="283.14" r="3.7"/>
<path d="M130.06 286.41L135.16 281.31L140.26 286.41L135.16 291.51Z"/><circle cx="135.16" cy="286.41" r="3.7"/>
<path d="M134.88 291.43L139.98 286.33L145.08 291.43L139.98 296.53Z"/><circle cx="139.98" cy="291.43" r="3.7"/>
<path d="M139.71 329.12L144.81 324.02L149.91 329.12L144.81 334.22Z"/><circle cx="144.81" cy="329.12" r="3.7"/>
<path d="M144.53 314.55L149.63 309.45L154.73 314.55L149.63 319.65Z"/><circle cx="149.63" cy="314.55" r="3.7"/>
<path d="M149.35 306.51L154.45 301.41L159.55 306.51L154.45 311.61Z"/><circle cx="154.45" cy="306.51" r="3.7"/>
<path d="M154.17 303.99L159.27 298.89L164.37 303.99L159.27 309.09Z"/><circle cx="159.27" cy="303.99" r="3.7"/>
<path d="M159.00 317.81L164.10 312.71L169.20 317.81L164.10 322.91Z"/><circle cx="164.10" cy="317.81" r="3.7"/>
<path d="M163.82 319.82L168.92 314.72L174.02 319.82L168.92 324.92Z"/><circle cx="168.92" cy="319.82" r="3.7"/>
<path d="M168.64 287.66L173.74 282.56L178.84 287.66L173.74 292.76Z"/><circle cx="173.74" cy="287.66" r="3.7"/>
<path d="M173.46 307.26L178.56 302.16L183.66 307.26L178.56 312.36Z"/><circle cx="178.56" cy="307.26" r="3.7"/>
<path d="M178.29 326.61L183.39 321.51L188.49 326.61L183.39 331.71Z"/><circle cx="183.39" cy="326.61" r="3.7"/>
<path d="M183.11 326.61L188.21 321.51L193.31 326.61L188.21 331.71Z"/><circle cx="188.21" cy="326.61" r="3.7"/>
<path d="M187.93 307.26L193.03 302.16L198.13 307.26L193.03 312.36Z"/><circle cx="193.03" cy="307.26" r="3.7"/>
<path d="M192.75 328.62L197.85 323.52L202.95 328.62L197.85 333.72Z"/><circle cx="197.85" cy="328.62" r="3.7"/>
<path d="M197.58 333.64L202.68 328.54L207.78 333.64L202.68 338.74Z"/><circle cx="202.68" cy="333.64" r="3.7"/>
<path d="M202.40 319.57L207.50 314.47L212.60 319.57L207.50 324.67Z"/><circle cx="207.50" cy="319.57" r="3.7"/>
<path d="M207.22 336.66L212.32 331.56L217.42 336.66L212.32 341.76Z"/><circle cx="212.32" cy="336.66" r="3.7"/>
<path d="M212.05 340.43L217.15 335.33L222.25 340.43L217.15 345.53Z"/><circle cx="217.15" cy="340.43" r="3.7"/>
<path d="M216.87 348.47L221.97 343.37L227.07 348.47L221.97 353.57Z"/><circle cx="221.97" cy="348.47" r="3.7"/>
<path d="M221.69 326.61L226.79 321.51L231.89 326.61L226.79 331.71Z"/><circle cx="226.79" cy="326.61" r="3.7"/>
<path d="M226.51 315.30L231.61 310.20L236.71 315.30L231.61 320.40Z"/><circle cx="231.61" cy="315.30" r="3.7"/>
<path d="M231.34 319.07L236.44 313.97L241.54 319.07L236.44 324.17Z"/><circle cx="236.44" cy="319.07" r="3.7"/>
<path d="M236.16 324.85L241.26 319.75L246.36 324.85L241.26 329.95Z"/><circle cx="241.26" cy="324.85" r="3.7"/>
<path d="M240.98 291.43L246.08 286.33L251.18 291.43L246.08 296.53Z"/><circle cx="246.08" cy="291.43" r="3.7"/>
<path d="M245.80 268.07L250.90 262.97L256.00 268.07L250.90 273.17Z"/><circle cx="250.90" cy="268.07" r="3.7"/>
<path d="M250.63 280.13L255.73 275.03L260.83 280.13L255.73 285.23Z"/><circle cx="255.73" cy="280.13" r="3.7"/>
<path d="M255.45 293.94L260.55 288.84L265.65 293.94L260.55 299.04Z"/><circle cx="260.55" cy="293.94" r="3.7"/>
<path d="M260.27 304.10L265.37 299.00L270.47 304.10L265.37 309.20Z"/><circle cx="265.37" cy="304.10" r="3.7"/>
<path d="M265.09 315.40L270.19 310.30L275.29 315.40L270.19 320.50Z"/><circle cx="270.19" cy="315.40" r="3.7"/>
<path d="M269.92 306.61L275.02 301.51L280.12 306.61L275.02 311.71Z"/><circle cx="275.02" cy="306.61" r="3.7"/>
<path d="M274.74 322.44L279.84 317.34L284.94 322.44L279.84 327.54Z"/><circle cx="279.84" cy="322.44" r="3.7"/>
<path d="M279.56 302.84L284.66 297.74L289.76 302.84L284.66 307.94Z"/><circle cx="284.66" cy="302.84" r="3.7"/>
<path d="M284.38 309.12L289.48 304.02L294.58 309.12L289.48 314.22Z"/><circle cx="289.48" cy="309.12" r="3.7"/>
<path d="M289.21 302.84L294.31 297.74L299.41 302.84L294.31 307.94Z"/><circle cx="294.31" cy="302.84" r="3.7"/>
<path d="M294.03 295.30L299.13 290.20L304.23 295.30L299.13 300.40Z"/><circle cx="299.13" cy="295.30" r="3.7"/>
<path d="M298.85 306.61L303.95 301.51L309.05 306.61L303.95 311.71Z"/><circle cx="303.95" cy="306.61" r="3.7"/>
<path d="M303.67 256.86L308.77 251.76L313.87 256.86L308.77 261.96Z"/><circle cx="308.77" cy="256.86" r="3.7"/>
<path d="M308.50 261.38L313.60 256.28L318.70 261.38L313.60 266.48Z"/><circle cx="313.60" cy="261.38" r="3.7"/>
<path d="M313.32 309.87L318.42 304.77L323.52 309.87L318.42 314.97Z"/><circle cx="318.42" cy="309.87" r="3.7"/>
<path d="M318.14 309.12L323.24 304.02L328.34 309.12L323.24 314.22Z"/><circle cx="323.24" cy="309.12" r="3.7"/>
<path d="M322.96 299.07L328.06 293.97L333.16 299.07L328.06 304.17Z"/><circle cx="328.06" cy="299.07" r="3.7"/>
<path d="M327.79 297.81L332.89 292.71L337.99 297.81L332.89 302.91Z"/><circle cx="332.89" cy="297.81" r="3.7"/>
<path d="M332.61 312.39L337.71 307.29L342.81 312.39L337.71 317.49Z"/><circle cx="337.71" cy="312.39" r="3.7"/>
<path d="M337.43 301.08L342.53 295.98L347.63 301.08L342.53 306.18Z"/><circle cx="342.53" cy="301.08" r="3.7"/>
<path d="M342.25 257.61L347.35 252.51L352.45 257.61L347.35 262.71Z"/><circle cx="347.35" cy="257.61" r="3.7"/>
<path d="M347.08 263.14L352.18 258.04L357.28 263.14L352.18 268.24Z"/><circle cx="352.18" cy="263.14" r="3.7"/>
<path d="M351.90 305.35L357.00 300.25L362.10 305.35L357.00 310.45Z"/><circle cx="357.00" cy="305.35" r="3.7"/>
<path d="M356.72 296.56L361.82 291.46L366.92 296.56L361.82 301.66Z"/><circle cx="361.82" cy="296.56" r="3.7"/>
<path d="M361.55 203.00L366.65 197.90L371.75 203.00L366.65 208.10Z"/><circle cx="366.65" cy="203.00" r="3.7"/>
<path d="M366.37 246.81L371.47 241.71L376.57 246.81L371.47 251.91Z"/><circle cx="371.47" cy="246.81" r="3.7"/>
<path d="M371.19 268.92L376.29 263.82L381.39 268.92L376.29 274.02Z"/><circle cx="376.29" cy="268.92" r="3.7"/>
<path d="M376.01 300.83L381.11 295.73L386.21 300.83L381.11 305.93Z"/><circle cx="381.11" cy="300.83" r="3.7"/>
<path d="M380.84 165.30L385.94 160.20L391.04 165.30L385.94 170.40Z"/><circle cx="385.94" cy="165.30" r="3.7"/>
<path d="M385.66 211.80L390.76 206.70L395.86 211.80L390.76 216.90Z"/><circle cx="390.76" cy="211.80" r="3.7"/>
<path d="M390.48 239.00L395.58 233.90L400.68 239.00L395.58 244.10Z"/><circle cx="395.58" cy="239.00" r="3.7"/>
<path d="M395.30 234.70L400.40 229.60L405.50 234.70L400.40 239.80Z"/><circle cx="400.40" cy="234.70" r="3.7"/>
<path d="M400.13 210.60L405.23 205.50L410.33 210.60L405.23 215.70Z"/><circle cx="405.23" cy="210.60" r="3.7"/>
<path d="M404.95 213.00L410.05 207.90L415.15 213.00L410.05 218.10Z"/><circle cx="410.05" cy="213.00" r="3.7"/>
<path d="M409.77 245.05L414.87 239.95L419.97 245.05L414.87 250.15Z"/><circle cx="414.87" cy="245.05" r="3.7"/>
<path d="M414.59 267.16L419.69 262.06L424.79 267.16L419.69 272.26Z"/><circle cx="419.69" cy="267.16" r="3.7"/>
<path d="M419.42 273.19L424.52 268.09L429.62 273.19L424.52 278.29Z"/><circle cx="424.52" cy="273.19" r="3.7"/>
<path d="M424.24 234.50L429.34 229.40L434.44 234.50L429.34 239.60Z"/><circle cx="429.34" cy="234.50" r="3.7"/>
<path d="M429.06 279.72L434.16 274.62L439.26 279.72L434.16 284.82Z"/><circle cx="434.16" cy="279.72" r="3.7"/>
<path d="M433.88 267.66L438.98 262.56L444.08 267.66L438.98 272.76Z"/><circle cx="438.98" cy="267.66" r="3.7"/>
<path d="M438.71 255.85L443.81 250.75L448.91 255.85L443.81 260.95Z"/><circle cx="443.81" cy="255.85" r="3.7"/>
<path d="M443.53 273.19L448.63 268.09L453.73 273.19L448.63 278.29Z"/><circle cx="448.63" cy="273.19" r="3.7"/>
<path d="M448.35 294.20L453.45 289.10L458.55 294.20L453.45 299.30Z"/><circle cx="453.45" cy="294.20" r="3.7"/>
<circle cx="458.27" cy="286.40" r="2.5" fill="none" stroke="#d70a53" stroke-width="1.9"/>
<path d="M453.17 288.80H463.37M458.27 283.70V293.90M455.37 285.90L461.17 291.70M455.37 291.70L461.17 285.90" stroke="#d70a53" stroke-width="2.00" fill="none"/>
<path d="M458.00 263.00L463.10 257.90L468.20 263.00L463.10 268.10Z"/><circle cx="463.10" cy="263.00" r="3.7"/>
<path d="M462.82 279.50L467.92 274.40L473.02 279.50L467.92 284.60Z"/><circle cx="467.92" cy="279.50" r="3.7"/>
<path d="M467.64 302.30L472.74 297.20L477.84 302.30L472.74 307.40Z"/><circle cx="472.74" cy="302.30" r="3.7"/>
<path d="M472.46 293.30L477.56 288.20L482.66 293.30L477.56 298.40Z"/><circle cx="477.56" cy="293.30" r="3.7"/>
<path d="M477.29 259.20L482.39 254.10L487.49 259.20L482.39 264.30Z"/><circle cx="482.39" cy="259.20" r="3.7"/>
<path d="M482.11 270.00L487.21 264.90L492.31 270.00L487.21 275.10Z"/><circle cx="487.21" cy="270.00" r="3.7"/>
<path d="M486.93 271.80L492.03 266.70L497.13 271.80L492.03 276.90Z"/><circle cx="492.03" cy="271.80" r="3.7"/>
<path d="M491.75 273.30L496.85 268.20L501.95 273.30L496.85 278.40Z"/><circle cx="496.85" cy="273.30" r="3.7"/>
<path d="M496.58 235.00L501.68 229.90L506.78 235.00L501.68 240.10Z"/><circle cx="501.68" cy="235.00" r="3.7"/>
<path d="M501.40 263.20L506.50 258.10L511.60 263.20L506.50 268.30Z"/><circle cx="506.50" cy="263.20" r="3.7"/>
<circle cx="511.32" cy="302.40" r="2.5" fill="none" stroke="#d70a53" stroke-width="1.9"/>
<path d="M506.22 303.80H516.42M511.32 298.70V308.90M508.42 300.90L514.22 306.70M508.42 306.70L514.22 300.90" stroke="#d70a53" stroke-width="2.00" fill="none"/>
<path d="M511.05 270.10L516.15 265.00L521.25 270.10L516.15 275.20Z"/><circle cx="516.15" cy="270.10" r="3.7"/>
<path d="M515.87 287.40L520.97 282.30L526.07 287.40L520.97 292.50Z"/><circle cx="520.97" cy="287.40" r="3.7"/>
<path d="M520.69 253.20L525.79 248.10L530.89 253.20L525.79 258.30Z"/><circle cx="525.79" cy="253.20" r="3.7"/>
<path d="M525.51 281.10L530.61 276.00L535.71 281.10L530.61 286.20Z"/><circle cx="530.61" cy="281.10" r="3.7"/>
<path d="M530.34 287.40L535.44 282.30L540.54 287.40L535.44 292.50Z"/><circle cx="535.44" cy="287.40" r="3.7"/>
<path d="M535.16 220.20L540.26 215.10L545.36 220.20L540.26 225.30Z"/><circle cx="540.26" cy="220.20" r="3.7"/>
<path d="M539.98 247.00L545.08 241.90L550.18 247.00L545.08 252.10Z"/><circle cx="545.08" cy="247.00" r="3.7"/>
<path d="M544.80 285.10L549.90 280.00L555.00 285.10L549.90 290.20Z"/><circle cx="549.90" cy="285.10" r="3.7"/>
<path d="M549.63 256.20L554.73 251.10L559.83 256.20L554.73 261.30Z"/><circle cx="554.73" cy="256.20" r="3.7"/>
<path d="M554.45 213.20L559.55 208.10L564.65 213.20L559.55 218.30Z"/><circle cx="559.55" cy="213.20" r="3.7"/>
<path d="M559.27 244.40L564.37 239.30L569.47 244.40L564.37 249.50Z"/><circle cx="564.37" cy="244.40" r="3.7"/>
<path d="M564.09 257.70L569.19 252.60L574.29 257.70L569.19 262.80Z"/><circle cx="569.19" cy="257.70" r="3.7"/>
<path d="M568.92 230.30L574.02 225.20L579.12 230.30L574.02 235.40Z"/><circle cx="574.02" cy="230.30" r="3.7"/>
<path d="M573.74 218.20L578.84 213.10L583.94 218.20L578.84 223.30Z"/><circle cx="578.84" cy="218.20" r="3.7"/>
<path d="M578.56 285.10L583.66 280.00L588.76 285.10L583.66 290.20Z"/><circle cx="583.66" cy="285.10" r="3.7"/>
<path d="M583.38 262.10L588.48 257.00L593.58 262.10L588.48 267.20Z"/><circle cx="588.48" cy="262.10" r="3.7"/>
<path d="M588.21 232.30L593.31 227.20L598.41 232.30L593.31 237.40Z"/><circle cx="593.31" cy="232.30" r="3.7"/>
<path d="M593.03 207.60L598.13 202.50L603.23 207.60L598.13 212.70Z"/><circle cx="598.13" cy="207.60" r="3.7"/>
<path d="M597.85 257.20L602.95 252.10L608.05 257.20L602.95 262.30Z"/><circle cx="602.95" cy="257.20" r="3.7"/>
<path d="M602.67 266.30L607.77 261.20L612.87 266.30L607.77 271.40Z"/><circle cx="607.77" cy="266.30" r="3.7"/>
<circle cx="612.60" cy="282.50" r="2.5" fill="none" stroke="#d70a53" stroke-width="1.9"/>
<path d="M607.50 285.60H617.70M612.60 280.50V290.70M609.70 282.70L615.50 288.50M609.70 288.50L615.50 282.70" stroke="#d70a53" stroke-width="2.00" fill="none"/>
<path d="M612.32 229.50L617.42 224.40L622.52 229.50L617.42 234.60Z"/><circle cx="617.42" cy="229.50" r="3.7"/>
<path d="M617.14 232.30L622.24 227.20L627.34 232.30L622.24 237.40Z"/><circle cx="622.24" cy="232.30" r="3.7"/>
<path d="M621.96 232.80L627.06 227.70L632.16 232.80L627.06 237.90Z"/><circle cx="627.06" cy="232.80" r="3.7"/>
<path d="M626.79 199.30L631.89 194.20L636.99 199.30L631.89 204.40Z"/><circle cx="631.89" cy="199.30" r="3.7"/>
<path d="M631.61 262.10L636.71 257.00L641.81 262.10L636.71 267.20Z"/><circle cx="636.71" cy="262.10" r="3.7"/>
<path d="M636.43 224.70L641.53 219.60L646.63 224.70L641.53 229.80Z"/><circle cx="641.53" cy="224.70" r="3.7"/>
<path d="M641.25 244.00L646.35 238.90L651.45 244.00L646.35 249.10Z"/><circle cx="646.35" cy="244.00" r="3.7"/>
<path d="M646.08 266.50L651.18 261.40L656.28 266.50L651.18 271.60Z"/><circle cx="651.18" cy="266.50" r="3.7"/>
<path d="M650.90 399.30L656.00 394.20L661.10 399.30L656.00 404.40Z"/><circle cx="656.00" cy="399.30" r="3.7"/>
</g>
<g font-size="16" fill="#262626" stroke="#262626">
<text x="53.0" y="405.20" text-anchor="end">0</text>
<text x="53.0" y="363.20" text-anchor="end">0.5</text>
<text x="53.0" y="322.20" text-anchor="end">1</text>
<text x="53.0" y="281.20" text-anchor="end">1.5</text>
<text x="53.0" y="240.20" text-anchor="end">2</text>
<text x="53.0" y="199.20" text-anchor="end">2.5</text>
<text x="53.0" y="158.20" text-anchor="end">3</text>
<text x="53.0" y="117.20" text-anchor="end">3.5</text>
<text x="53.0" y="76.20" text-anchor="end">4</text>
<text x="96.80" y="419.6" text-anchor="middle">08/03</text>
<text x="193.80" y="419.6" text-anchor="middle">08/08</text>
<text x="289.80" y="419.6" text-anchor="middle">08/13</text>
<text x="385.80" y="419.6" text-anchor="middle">08/18</text>
<text x="482.80" y="419.6" text-anchor="middle">08/23</text>
<text x="578.80" y="419.6" text-anchor="middle">08/28</text>
<text x="356.5" y="440.6" text-anchor="middle" textLength="194" lengthAdjust="spacingAndGlyphs">Aug.01,2017 00:00:00 start</text>
<text transform="translate(22.9,234.6) rotate(-90)" text-anchor="middle">rmse and totalspread</text>
</g>
<g font-size="16" fill="#d70a53" stroke="#d70a53">
<text x="673.9" y="406.00">0</text>
<text x="664.8" y="363.90">200</text>
<text x="664.8" y="322.80">400</text>
<text x="664.8" y="281.70">600</text>
<text x="664.8" y="240.60">800</text>
<text x="661.4" y="199.50">1000</text>
<text x="661.4" y="158.40">1200</text>
<text x="661.4" y="117.30">1400</text>
<text x="661.4" y="76.20">1600</text>
<text transform="translate(716,233.9) rotate(-90)" text-anchor="middle" textLength="252.2" lengthAdjust="spacingAndGlyphs"># of obs: o=possible; <tspan font-size="12">×</tspan>=assimilated</text>
</g>
<g font-size="16" font-weight="bold" fill="#000" stroke="#000">
<text x="179.6" y="42.1" textLength="354.4" lengthAdjust="spacingAndGlyphs">Northern Hemisphere 71043 / 71168 = 99.824%</text>
<text x="208.9" y="61.5" textLength="296.3" lengthAdjust="spacingAndGlyphs">SAT_V_WIND_COMPONENT @ 688 hPa</text>
</g>
<g>
<line x1="397.6" y1="89.5" x2="427.5" y2="89.5" stroke="#000" stroke-width="2.4"/>
<circle cx="412.6" cy="89.5" r="3.5" fill="#000"/><path d="M408.50 89.50H416.70M412.60 85.40V93.60M409.70 86.60L415.50 92.40M409.70 92.40L415.50 86.60" stroke="#000" stroke-width="1.80" fill="none"/>
<line x1="397.6" y1="109.4" x2="427.5" y2="109.4" stroke="#008080" stroke-width="2.4"/>
<circle cx="412.6" cy="109.4" r="3.5" fill="#008080"/>
<g font-size="16" fill="#0433ff" stroke="#0433ff">
<text x="430.2" y="95.4" textLength="167" lengthAdjust="spacingAndGlyphs">rmse grand pr = 1.8554</text>
<text x="430.2" y="114.8" textLength="214" lengthAdjust="spacingAndGlyphs">totalspread grand pr = 3.0286</text>
</g></g>
<text x="146.3" y="458.1" font-size="8" fill="#000" stroke="#000" stroke-width="0.2" textLength="502.7" lengthAdjust="spacingAndGlyphs">data file: /Users/raeder/DAI/ATM_forcXX/CAM6_setup/f.e21.FHIST_BGC.f09_025.CAM6assim.011/Diags_NTrS_2017-08/obs_diag_output.nc</text>
</svg>
</body></html>
